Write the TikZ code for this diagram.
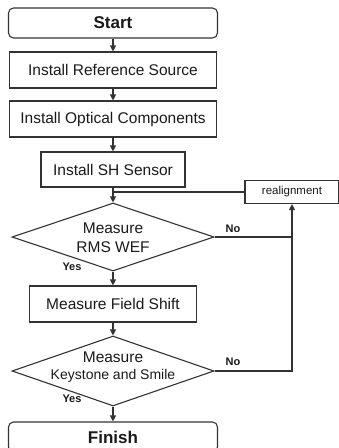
\documentclass[tikz,border=0pt]{standalone}
\usepackage{fontspec}
\setmainfont{Liberation Sans}
\usetikzlibrary{arrows.meta,shapes.geometric}
\definecolor{linec}{HTML}{333333}
\definecolor{txtc}{HTML}{1A1A1A}
\begin{document}
\begin{tikzpicture}[x=1pt,y=-1pt,
  proc/.style={draw=linec, line width=1.1pt, fill=white, inner sep=0pt, minimum height=36pt, text=txtc, font=\fontsize{15.5}{18}\selectfont},
  term/.style={proc, rounded corners=5pt, minimum width=209pt, minimum height=30pt, font=\bfseries\fontsize{17}{20}\selectfont},
  dec/.style={diamond, draw=linec, line width=1.1pt, fill=white, inner sep=0pt, minimum width=202pt},
  dtext/.style={align=center, text=txtc, font=\fontsize{15.5}{19}\selectfont},
  arr/.style={-{Triangle[length=6pt,width=6pt]}, line width=1.1pt, draw=linec},
  ln/.style={line width=1.1pt, draw=linec},
  lab/.style={text=txtc, font=\bfseries\fontsize{11}{13}\selectfont}
]
\useasboundingbox (0,0) rectangle (339,448);
\clip (0,0) rectangle (339,448);

\node[term] (start) at (113,23) {Start};
\node[proc, minimum width=207pt] (irs) at (113,70) {Install Reference Source};
\node[proc, minimum width=207pt] (ioc) at (113,119) {Install Optical Components};
\node[proc, minimum width=144pt, minimum height=35pt] (ish) at (113,169.5) {Install SH Sensor};
\node[dec, minimum height=68pt] (d1) at (113,237) {};
\node[dtext] (d1t) at (113,237.5) {Measure\\RMS WEF};
\node[proc, minimum width=167pt] (mfs) at (113,304) {Measure Field Shift};
\node[dec, minimum height=70pt] (d2) at (113,371) {};
\node[dtext, font=\fontsize{15.5}{17}\selectfont] (d2t) at (113,367) {Measure\\{\fontsize{14}{17}\selectfont Keystone and Smile}};
\node[term] (fin) at (113,437) {Finish};
\node[proc, minimum width=94pt, minimum height=23pt, font=\fontsize{11.5}{13}\selectfont] (real) at (292,192) {realignment};

\coordinate (j) at (113,192);

\draw[arr] (start) -- (irs);
\draw[arr] (irs) -- (ioc);
\draw[arr] (ioc) -- (ish);
\draw[arr] (ish) -- (d1);
\draw[ln] (real.west) -- (j);
\draw[arr] (d1) -- (mfs);
\draw[arr] (mfs) -- (d2);
\draw[arr] (d2) -- (fin);
\draw[ln] (d1.east) -- (d1.east -| real.south);
\draw[arr] (d2.east) -| (real.south);

\node[lab] (no1) at (233,229) {No};
\node[lab] (yes1) at (72,267) {Yes};
\node[lab] (no2) at (233,362) {No};
\node[lab] (yes2) at (72,399) {Yes};
\end{tikzpicture}
\end{document}
